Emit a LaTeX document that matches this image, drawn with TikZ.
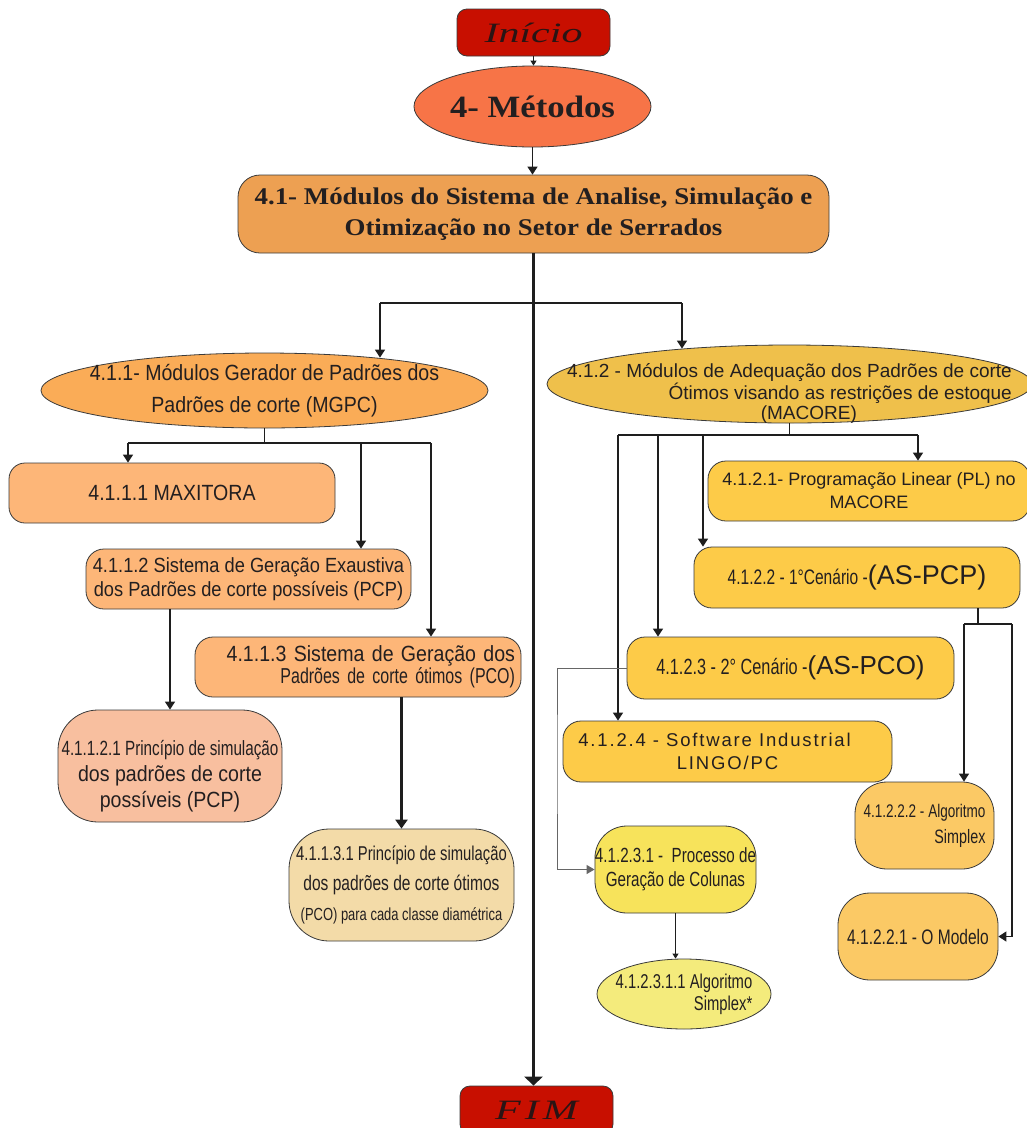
\documentclass[tikz,border=0pt]{standalone}
\usepackage{fontspec}
\setmainfont{Liberation Sans}
\newfontfamily\semifont[FakeStretch=0.89]{Liberation Sans}
\newfontfamily\narrowfont[FakeStretch=0.74]{Liberation Sans}
\newfontfamily\spacedfont[LetterSpace=10]{Liberation Sans}
\newfontfamily\headfont[FakeStretch=1.12]{Liberation Serif}
\newfontfamily\calfont[FakeStretch=1.5]{Liberation Serif}
\usetikzlibrary{shapes.geometric, arrows.meta}

\newcommand{\fsz}[2]{\fontsize{#1}{#2}\selectfont}

\definecolor{inired}{HTML}{C80F00}
\definecolor{ink}{HTML}{231F20}
\definecolor{calink}{HTML}{2A1414}
\definecolor{metorange}{HTML}{F77447}
\definecolor{modorange}{HTML}{EDA052}
\definecolor{genorange}{HTML}{FAAC57}
\definecolor{subpeach}{HTML}{FDB678}
\definecolor{simsalmon}{HTML}{F8BF9F}
\definecolor{simwheat}{HTML}{F3DBA8}
\definecolor{adqgold}{HTML}{EFC04B}
\definecolor{cengold}{HTML}{FDCB48}
\definecolor{colyellow}{HTML}{F7E35B}
\definecolor{simyellow}{HTML}{F4EB7C}
\definecolor{algogold}{HTML}{FBC965}
\definecolor{edgegray}{HTML}{3A3A3A}
\definecolor{linegray}{HTML}{1E1E1E}

\begin{document}
\begin{tikzpicture}[
    x=1pt, y=-1pt,
    box/.style={
        rectangle, draw=edgegray, line width=0.8pt,
        inner sep=0pt, align=center, text=ink
    },
    oval/.style={
        ellipse, draw=edgegray, line width=0.8pt,
        inner xsep=-250pt, inner ysep=-60pt, align=center, text=ink
    },
    endbox/.style={
        box, fill=inired, rounded corners=10pt,
        minimum width=153pt, minimum height=47pt,
        text=calink, font=\calfont\itshape\fsz{28}{30}
    },
    conn/.style={draw=linegray, line width=1.4pt},
    arr/.style={conn, -{Triangle[width=10pt, length=8pt]}},
    arrthin/.style={draw=linegray, line width=0.9pt, -{Triangle[width=6pt, length=5pt]}},
    arrthick/.style={draw=linegray, line width=2.6pt, -{Triangle[width=18pt, length=9pt]}},
    arrgray/.style={draw=black!60, line width=1pt, -{Triangle[width=9pt, length=8pt]}}
]
\useasboundingbox (0,0) rectangle (1027,1128);

% --- Inicio / Metodos ---
\node[endbox] (ini) at (533.5,32.5) {Início};
\node[oval, fill=metorange, minimum width=237pt, minimum height=81pt,
      font=\headfont\bfseries\fsz{31}{34}] (met) at (532.5,106.5) {4- Métodos};

% --- Modulos do sistema ---
\node[box, fill=modorange, rounded corners=22pt, minimum width=591pt, minimum height=78pt,
      font=\headfont\bfseries\fsz{24}{31}] (t41) at (533.5,214)
    {4.1- Módulos do Sistema de Analise, Simulação e\\Otimização no Setor de Serrados};

% --- Ramo MGPC ---
\node[oval, fill=genorange, minimum width=447pt, minimum height=75pt,
      font=\semifont\fsz{22}{32}] (e411) at (264.5,390.5)
    {4.1.1- Módulos Gerador de Padrões dos\\Padrões de corte (MGPC)};
\node[box, fill=subpeach, rounded corners=16pt, minimum width=326pt, minimum height=60pt,
      font=\semifont\fsz{22}{24}] (max) at (172,493) {4.1.1.1 MAXITORA};
\node[box, fill=subpeach, rounded corners=18pt, minimum width=325pt, minimum height=60pt,
      font=\semifont\fsz{20.5}{24}] (s4112) at (248.5,579)
    {4.1.1.2 Sistema de Geração Exaustiva\\dos Padrões de corte possíveis (PCP)};
\node[box, fill=subpeach, rounded corners=18pt, minimum width=326pt, minimum height=60pt,
      align=right, text width=314pt, font=\semifont\fsz{22}{22}] (s4113) at (358,667)
    {4.1.1.3 Sistema de Geração dos\\{\narrowfont\fsz{21.6}{22}Padrões de corte ótimos (PCO)}};
\node[box, fill=simsalmon, rounded corners=40pt, minimum width=224pt, minimum height=112pt,
      font=\semifont\fsz{22}{26}] (p41121) at (170,766)
    {{\narrowfont\fsz{20.6}{26}\rule{0pt}{36pt}4.1.1.2.1 Princípio de simulação}\\dos padrões de corte\\possíveis (PCP)};
\node[box, fill=simwheat, rounded corners=40pt, minimum width=225pt, minimum height=112pt,
      font=\narrowfont\fsz{21}{30}] (p41131) at (401.5,885)
    {{\fsz{20}{30}4.1.1.3.1 Princípio de simulação}\\dos padrões de corte ótimos\\{\fsz{17.5}{30}(PCO) para cada classe diamétrica}};

% --- Ramo MACORE ---
\node[oval, fill=adqgold, minimum width=485pt, minimum height=78pt,
      align=right, font=\fsz{19}{20}] (e412) at (789.5,384)
    {\rule{0pt}{33pt}4.1.2 - Módulos de Adequação dos Padrões de corte\\Ótimos visando as restrições de estoque\\(MACORE)\hspace*{155pt}};
\node[box, fill=cengold, rounded corners=18pt, minimum width=322pt, minimum height=60pt,
      font=\fsz{18}{23}] (r4121) at (869,491)
    {4.1.2.1- Programação Linear (PL) no\\MACORE};
\node[box, fill=cengold, rounded corners=18pt, minimum width=326pt, minimum height=61pt,
      font=\narrowfont\fsz{21}{24}] (r4122) at (857,577.5)
    {4.1.2.2 - 1°Cenário -{\rmfamily\fsz{27}{30}(AS-PCP)}};
\node[box, fill=cengold, rounded corners=18pt, minimum width=327pt, minimum height=62pt,
      font=\narrowfont\fsz{22}{24}] (r4123) at (790.5,668)
    {4.1.2.3 - 2° Cenário -{\rmfamily\fsz{26}{30}(AS-PCO)}};
\node[box, fill=cengold, rounded corners=18pt, minimum width=329pt, minimum height=61pt,
      font=\spacedfont\fsz{18.5}{23}] (r4124) at (727.5,751.5)
    {4.1.2.4 - Software Industrial\hspace*{26pt}\\LINGO/PC};
\node[box, fill=colyellow, rounded corners=32pt, minimum width=161pt, minimum height=87pt,
      font=\narrowfont\fsz{20.5}{24}] (p41231) at (675.5,869.5)
    {4.1.2.3.1 -\ \ Processo de\\Geração de Colunas};
\node[oval, fill=simyellow, minimum width=174pt, minimum height=70pt,
      align=right, font=\narrowfont\fsz{20}{22}] (e412311) at (684,994)
    {4.1.2.3.1.1 Algoritmo\\Simplex*};
\node[box, fill=algogold, rounded corners=32pt, minimum width=139pt, minimum height=87pt,
      align=right, font=\narrowfont\fsz{18.3}{26}] (a41222) at (924.5,825.5)
    {4.1.2.2.2 - Algoritmo\\{\fsz{19.4}{26}Simplex}};
\node[box, fill=algogold, rounded corners=32pt, minimum width=160pt, minimum height=87pt,
      font=\narrowfont\fsz{21}{22}] (m41221) at (918,936.5) {4.1.2.2.1 - O Modelo};

% --- Fim ---
\node[endbox, minimum height=48pt] (fim) at (536.5,1110) {F\kern4pt I\kern4pt M};

% --- Tronco ---
\draw[arrthin] (ini.south) -- (ini.south |- met.north);
\draw[arr] (met.south) -- (met.south |- t41.north);
\draw[arrthick] (t41.south) -- (t41.south |- fim.north);

% --- Bifurcacao principal ---
\coordinate (bL) at (380,303);
\coordinate (bR) at (682,303);
\draw[conn] (bL) -- (bR);
\draw[arr] (bL) -- ([yshift=-5pt]bL |- e411.north);
\draw[arr] (bR) -- ([yshift=-4pt]bR |- e412.north);

% --- Ligacoes MGPC ---
\coordinate (gL) at (128,443);
\coordinate (gM) at (361,443);
\coordinate (gR) at (431,443);
\draw[conn] (e411.south) -- (e411.south |- gL);
\draw[conn] (gL) -- (gR);
\draw[arr] (gL) -- (gL |- max.north);
\draw[arr] (gM) -- (gM |- s4112.north);
\draw[arr] (gR) -- (gR |- s4113.north);
\draw[arr] (s4112.south -| p41121.north) -- (p41121.north);
\draw[arrthick, -{Triangle[width=12pt, length=9pt]}] (s4113.south -| p41131.north) -- (p41131.north);

% --- Ligacoes MACORE ---
\coordinate (hL) at (618,435);
\coordinate (h3) at (658,435);
\coordinate (h2) at (703,435);
\coordinate (hR) at (918,435);
\draw[conn] (e412.south) -- (e412.south |- hL);
\draw[conn] (hL) -- (hR);
\draw[arr] (hR) -- (hR |- r4121.north);
\draw[arr] (h2) -- (h2 |- r4122.north);
\draw[arr] (h3) -- (h3 |- r4123.north);
\draw[arr] (hL) -- (hL |- r4124.north);

% --- 1o cenario ---
\coordinate (sL) at (964,624);
\coordinate (sM) at (978,624);
\coordinate (sR) at (1012,624);
\draw[conn] (sM |- r4122.south) -- (sM);
\draw[conn] (sL) -- (sR);
\draw[arr] (sL) -- (sL |- a41222.north);
\draw[arr] (sR) |- (m41221.east);

% --- 2o cenario ---
\coordinate (k1) at (557,760);
\draw[arrgray] (r4123.west) -| (k1) |- (p41231.west);
\draw[arrthin] (p41231.south) -- (p41231.south |- e412311.north);

\end{tikzpicture}
\end{document}
